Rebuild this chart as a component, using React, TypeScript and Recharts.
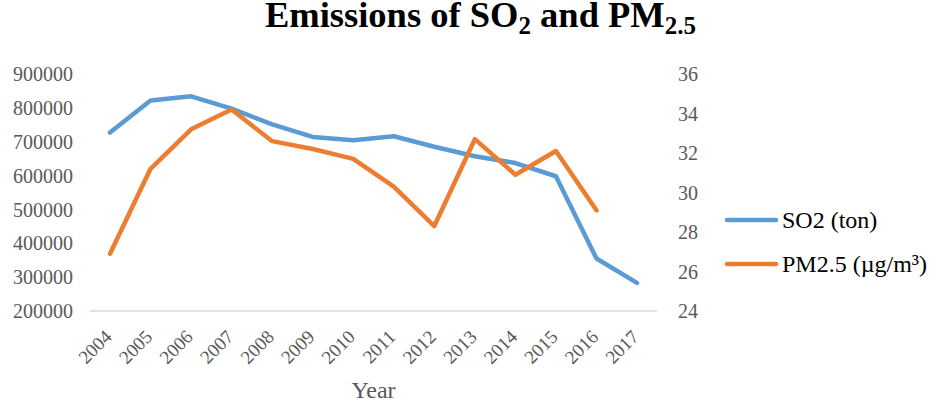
import React from 'react';
import { LineChart, Line, XAxis, YAxis } from 'recharts';

const years = ['2004','2005','2006','2007','2008','2009','2010','2011','2012','2013','2014','2015','2016','2017'];
const so2 = [727000, 822000, 834000, 798000, 751000, 714000, 704000, 716000, 685000, 657000, 637000, 598000, 355000, 283000];
const pm25: (number | null)[] = [26.9, 31.2, 33.2, 34.2, 32.6, 32.2, 31.7, 30.3, 28.3, 32.7, 30.9, 32.1, 29.1, null];
const leftTicks = [200000, 300000, 400000, 500000, 600000, 700000, 800000, 900000];
const rightTicks = [24, 26, 28, 30, 32, 34, 36];
const seriesNames = ['SO2 (ton)', 'PM2.5 (µg/m³)'];
const seriesColors = ['#5B9BD5', '#ED7D31'];

const data = years.map((y, i) => ({ year: y, so2: so2[i], pm25: pm25[i] }));

const FONT = '"Liberation Serif", "Times New Roman", serif';

const XTick = (props: any) => {
  const { x, y, payload } = props;
  const bx = x + 3;
  const by = y + 27;
  return (
    <text x={bx} y={by} textAnchor="end" fill="#595959" fontSize={19} fontFamily={FONT}
      transform={`rotate(-45, ${bx}, ${by})`}>
      {payload.value}
    </text>
  );
};

export default function App() {
  return (
    <div style={{ position: 'absolute', left: 0, top: 0, width: 938, height: 403, background: '#fff', fontFamily: FONT }}>
      <LineChart width={938} height={403} data={data} margin={{ top: 74, right: 221, bottom: 0, left: 0 }}>
        <XAxis dataKey="year" height={92} tickLine={false} tickSize={0} tickMargin={0} interval={0}
          padding={{ left: 20, right: 20 }}
          axisLine={{ stroke: '#D9D9D9', strokeWidth: 1.5 }} tick={<XTick />}
          label={{ value: 'Year', position: 'insideBottom', offset: 5, fill: '#595959', fontSize: 24, fontFamily: FONT }} />
        <YAxis yAxisId="left" orientation="left" width={90} domain={[200000, 900000]} ticks={leftTicks}
          axisLine={false} tickLine={false} tickSize={0} tickMargin={17} interval={0}
          tick={{ fill: '#595959', fontSize: 20, fontFamily: FONT }} />
        <YAxis yAxisId="right" orientation="right" width={60} domain={[24, 36]} ticks={rightTicks}
          axisLine={false} tickLine={false} tickSize={0} tickMargin={21} interval={0}
          tick={{ fill: '#595959', fontSize: 20, fontFamily: FONT }} />
        <Line yAxisId="left" dataKey="so2" name={seriesNames[0]} stroke={seriesColors[0]} strokeWidth={4.5}
          dot={false} type="linear" isAnimationActive={false} strokeLinejoin="round" strokeLinecap="round" />
        <Line yAxisId="right" dataKey="pm25" name={seriesNames[1]} stroke={seriesColors[1]} strokeWidth={4.5}
          dot={false} type="linear" isAnimationActive={false} strokeLinejoin="round" strokeLinecap="round" />
      </LineChart>
      <svg style={{ position: 'absolute', left: 0, top: 0 }} width={938} height={403} pointerEvents="none">
        <text x={480.5} y={27} textAnchor="middle" fontWeight="bold" fontSize={36.5} fontFamily={FONT} fill="#000">
          Emissions of SO<tspan dy={7} fontSize={25}>2</tspan><tspan dy={-7}> and PM</tspan><tspan dy={7} fontSize={25}>2.5</tspan>
        </text>
        {seriesNames.map((n, i) => (
          <g key={n}>
            <line x1={727} x2={776} y1={220 + i * 44} y2={220 + i * 44} stroke={seriesColors[i]} strokeWidth={4.5} strokeLinecap="round" />
            <text x={782} y={228 + i * 44} fontSize={24} fontFamily={FONT} fill="#000">{n}</text>
          </g>
        ))}
      </svg>
    </div>
  );
}
